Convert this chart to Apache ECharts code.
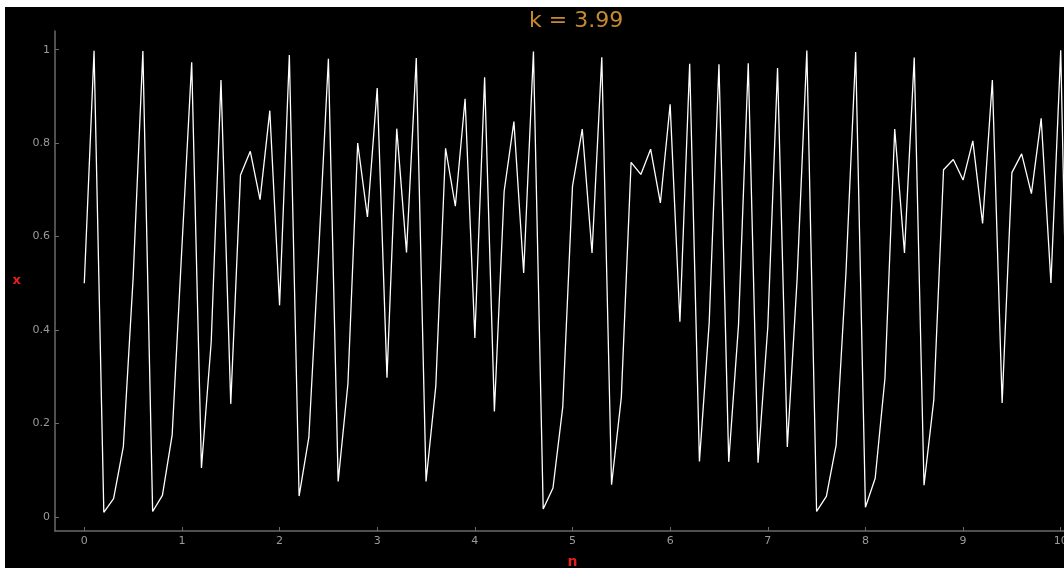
<!DOCTYPE html>
<html>
<head>
<meta charset="utf-8">
<script src="https://cdn.jsdelivr.net/npm/echarts@6/dist/echarts.min.js"></script>
<style>
  html, body { margin: 0; padding: 0; background: #ffffff; overflow: hidden; width: 1064px; height: 568px; }
  #chart { position: absolute; left: 5px; top: 7px; width: 1100px; height: 561px; background: #000000; }
</style>
</head>
<body>
<div id="chart"></div>
<script>
const titleText = 'k = 3.99';
const xName = 'n';
const yName = 'x';

const nValues = [
  0, 0.1, 0.2, 0.3, 0.4, 0.5, 0.6, 0.7, 0.8, 0.9,
  1, 1.1, 1.2, 1.3, 1.4, 1.5, 1.6, 1.7, 1.8, 1.9,
  2, 2.1, 2.2, 2.3, 2.4, 2.5, 2.6, 2.7, 2.8, 2.9,
  3, 3.1, 3.2, 3.3, 3.4, 3.5, 3.6, 3.7, 3.8, 3.9,
  4, 4.1, 4.2, 4.3, 4.4, 4.5, 4.6, 4.7, 4.8, 4.9,
  5, 5.1, 5.2, 5.3, 5.4, 5.5, 5.6, 5.7, 5.8, 5.9,
  6, 6.1, 6.2, 6.3, 6.4, 6.5, 6.6, 6.7, 6.8, 6.9,
  7, 7.1, 7.2, 7.3, 7.4, 7.5, 7.6, 7.7, 7.8, 7.9,
  8, 8.1, 8.2, 8.3, 8.4, 8.5, 8.6, 8.7, 8.8, 8.9,
  9, 9.1, 9.2, 9.3, 9.4, 9.5, 9.6, 9.7, 9.8, 9.9,
  10, 10.1
];

const xSeries = [
  0.5, 0.9975, 0.00995, 0.0393, 0.1507, 0.5106, 0.9971, 0.0117, 0.0462, 0.1759,
  0.5784, 0.973, 0.105, 0.375, 0.9351, 0.2421, 0.7321, 0.7825, 0.6791, 0.8695,
  0.4529, 0.9886, 0.0448, 0.1708, 0.5651, 0.9806, 0.076, 0.285, 0.8, 0.642,
  0.918, 0.298, 0.831, 0.566, 0.982, 0.076, 0.28, 0.789, 0.665, 0.895,
  0.383, 0.941, 0.226, 0.697, 0.846, 0.522, 0.996, 0.017, 0.062, 0.235,
  0.708, 0.83, 0.565, 0.984, 0.069, 0.256, 0.759, 0.733, 0.787, 0.672,
  0.883, 0.418, 0.97, 0.119, 0.416, 0.969, 0.118, 0.41, 0.971, 0.116,
  0.406, 0.961, 0.15, 0.508, 0.998, 0.012, 0.044, 0.154, 0.52, 0.995,
  0.021, 0.083, 0.297, 0.83, 0.565, 0.983, 0.068, 0.25, 0.743, 0.765,
  0.721, 0.805, 0.628, 0.935, 0.244, 0.737, 0.777, 0.692, 0.853, 0.501,
  0.999, 0.004
];

const xTicks = [0, 1, 2, 3, 4, 5, 6, 7, 8, 9, 10];
const yTicks = [0, 0.2, 0.4, 0.6, 0.8, 1];

const seriesData = nValues.map((n, i) => [n, xSeries[i]]);

const chart = echarts.init(document.getElementById('chart'), null, { renderer: 'canvas' });
const axisColor = '#6a6a6a';
const labelColor = '#9a9a9a';
const nameColor = '#e8201c';
chart.setOption({
  backgroundColor: '#000000',
  animation: false,
  title: {
    text: titleText,
    left: 519,
    top: -2,
    textStyle: { color: '#c8892f', fontSize: 22, fontWeight: 'normal', fontFamily: 'DejaVu Sans' }
  },
  grid: { left: 50, top: 24, width: 1035, height: 500, containLabel: false, outerBoundsMode: 'none' },
  xAxis: {
    type: 'value',
    min: -0.3,
    max: 10.3,
    name: xName,
    nameLocation: 'middle',
    nameGap: 24,
    nameTextStyle: { color: nameColor, fontSize: 14, fontWeight: 'bold', fontFamily: 'DejaVu Sans' },
    axisLine: { show: true, onZero: false, lineStyle: { color: axisColor, width: 1.5 } },
    axisTick: { show: true, inside: true, length: 4, customValues: xTicks, lineStyle: { color: axisColor } },
    axisLabel: { customValues: xTicks, color: labelColor, fontSize: 11, margin: 5, fontFamily: 'DejaVu Sans' },
    splitLine: { show: false }
  },
  yAxis: {
    type: 'value',
    min: -0.03,
    max: 1.04,
    name: yName,
    nameLocation: 'middle',
    nameGap: 34,
    nameRotate: 0,
    nameTextStyle: { color: nameColor, fontSize: 13, fontWeight: 'bold', fontFamily: 'DejaVu Sans', padding: [4, 0, 0, 0] },
    axisLine: { show: true, onZero: false, lineStyle: { color: axisColor, width: 1.5 } },
    axisTick: { show: true, inside: true, length: 4, customValues: yTicks, lineStyle: { color: axisColor } },
    axisLabel: { customValues: yTicks, color: labelColor, fontSize: 11, margin: 5, fontFamily: 'DejaVu Sans' },
    splitLine: { show: false }
  },
  series: [{
    type: 'line',
    data: seriesData,
    showSymbol: false,
    symbol: 'none',
    lineStyle: { color: '#ffffff', width: 1.3 },
    clip: true
  }]
});
</script>
</body>
</html>
